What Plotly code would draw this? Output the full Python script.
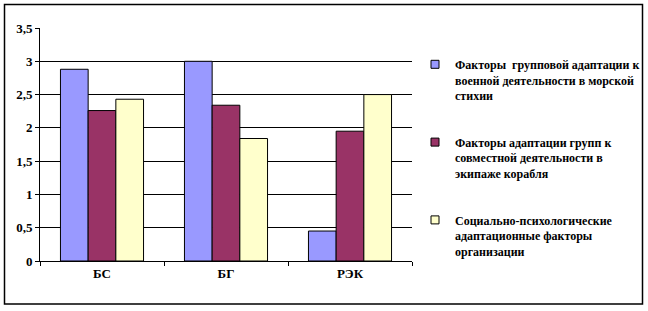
import plotly.graph_objects as go

categories = ["БС", "БГ", "РЭК"]
series_names = [
    "Факторы  групповой адаптации к<br>военной деятельности в морской<br>стихии",
    "Факторы адаптации групп к<br>совместной деятельности в<br>экипаже корабля",
    "Социально-психологические<br>адаптационные факторы<br>организации",
]
series_values = [
    [2.88, 3.0, 0.45],
    [2.26, 2.34, 1.95],
    [2.43, 1.84, 2.50],
]
series_colors = ["#9999FF", "#993366", "#FFFFCC"]
y_ticks = [0, 0.5, 1, 1.5, 2, 2.5, 3, 3.5]

W, H = 648, 311
L, R, T, B = 40, 236, 28, 50
FONT = "'Liberation Serif', 'Times New Roman', 'DejaVu Serif', serif"

fig = go.Figure()
for i, (name, vals, col) in enumerate(zip(series_names, series_values, series_colors)):
    fig.add_trace(go.Bar(
        x=categories, y=vals, name=name, legendgroup=f"g{i}", showlegend=False,
        marker=dict(color=col, line=dict(color="black", width=1)),
    ))
for i, (name, col) in enumerate(zip(series_names, series_colors)):
    fig.add_trace(go.Scatter(
        x=[None], y=[None], mode="markers", name=name, legendgroup=f"g{i}",
        marker=dict(symbol="square", size=8, color=col, line=dict(color="black", width=1)),
    ))

pw = W - L - R
ph = H - T - B
def px2x(p):
    return (p - L) / pw
def py2y(p):
    return (H - B - p) / ph

fig.add_shape(type="rect", xref="paper", yref="paper",
              x0=px2x(4.5), x1=px2x(642.5), y0=py2y(304), y1=py2y(4.5),
              line=dict(color="black", width=1.5), fillcolor="rgba(0,0,0,0)", layer="below")

tickfont = dict(family=FONT, size=13, color="black", weight=700)
legfont = dict(family=FONT, size=12, color="black", weight=700)

fig.update_layout(
    width=W, height=H,
    margin=dict(l=L, r=R, t=T, b=B, autoexpand=False),
    paper_bgcolor="white", plot_bgcolor="white",
    separators=", ",
    barmode="group", bargap=0.33, bargroupgap=0,
    font=tickfont,
    showlegend=True,
    legend=dict(x=px2x(415), y=py2y(50), xanchor="left", yanchor="top",
                font=legfont, tracegroupgap=28, itemwidth=30, valign="top",
                bgcolor="rgba(0,0,0,0)", traceorder="grouped"),
    xaxis=dict(showline=True, linecolor="black", linewidth=1,
               ticks="outside", ticklen=4, tickcolor="black",
               tickson="boundaries", showgrid=False, tickfont=tickfont),
    yaxis=dict(range=[0, 3.5], tickvals=y_ticks, showline=True, linecolor="black", linewidth=1,
               ticks="outside", ticklen=4, tickcolor="black",
               showgrid=True, gridcolor="black", gridwidth=1, zeroline=False,
               tickfont=tickfont),
)

fig.write_html("out.html")
